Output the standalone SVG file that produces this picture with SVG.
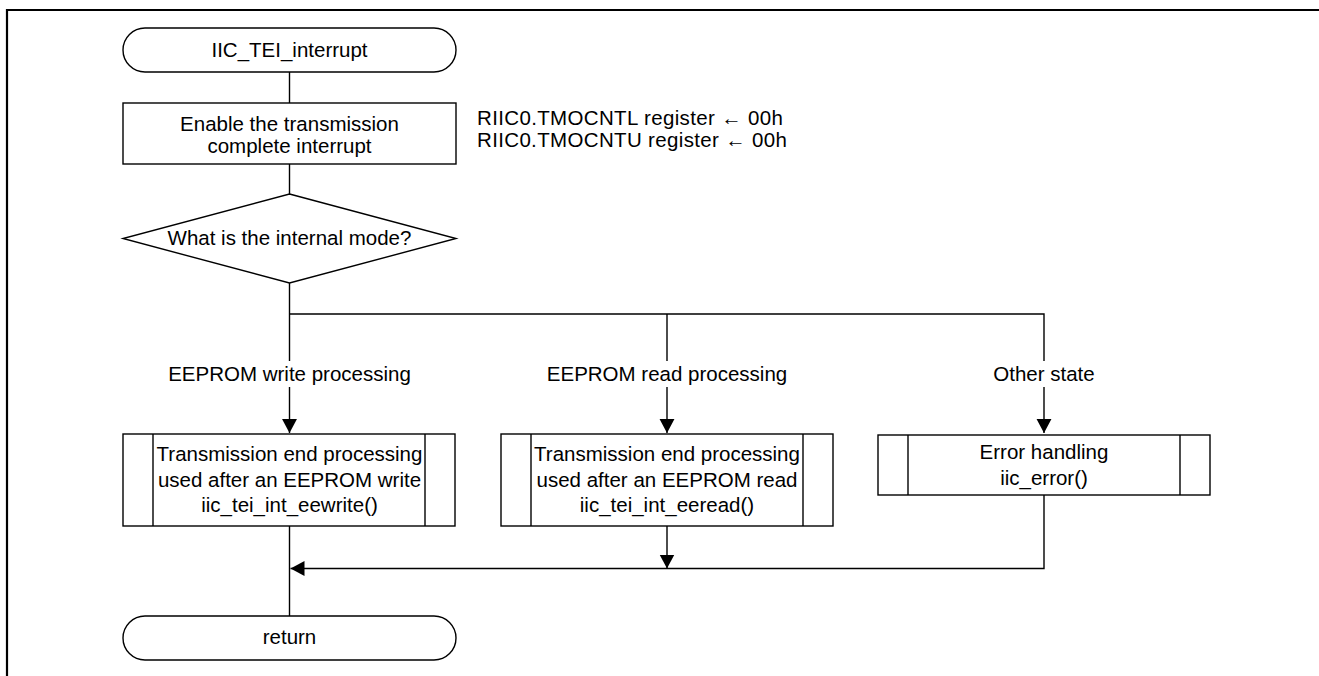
<svg xmlns="http://www.w3.org/2000/svg" width="1319" height="676" viewBox="0 0 1319 676">
<style>
.s{fill:#fff;stroke:#000;stroke-width:1.4}
.l{fill:none;stroke:#000;stroke-width:1.4}
text{font-family:"Liberation Sans",Arial,sans-serif;font-size:20.5px;fill:#000}
.c{text-anchor:middle}
</style>
<defs>
<marker id="ah" markerWidth="14" markerHeight="16" refX="15" refY="8" orient="auto" markerUnits="userSpaceOnUse" viewBox="0 0 15 16">
<path d="M0,0 L15,8 L0,16 Z" fill="#000"/>
</marker>
</defs>
<rect width="1319" height="676" fill="#fff"/>
<path d="M7,676 V10 H1319" fill="none" stroke="#000" stroke-width="2.2"/>
<g id="connectors">
<line class="l" x1="289.5" y1="72" x2="289.5" y2="103"/>
<line class="l" x1="289.5" y1="164" x2="289.5" y2="194"/>
<line class="l" x1="289.5" y1="283" x2="289.5" y2="314"/>
<path class="l" d="M289.5,314 H1044 V433" marker-end="url(#ah)"/>
<line class="l" x1="289.5" y1="314" x2="289.5" y2="433" marker-end="url(#ah)"/>
<line class="l" x1="667" y1="314" x2="667" y2="433" marker-end="url(#ah)"/>
<line class="l" x1="289.5" y1="526" x2="289.5" y2="616"/>
<line class="l" x1="667" y1="526" x2="667" y2="568.5" marker-end="url(#ah)"/>
<path class="l" d="M1044,495 V568.5 H290.5" marker-end="url(#ah)"/>
<rect x="160" y="361" width="260" height="26" fill="#fff"/>
<text class="c" x="289.5" y="381">EEPROM write processing</text>
<rect x="540" y="361" width="254" height="26" fill="#fff"/>
<text class="c" x="667" y="381">EEPROM read processing</text>
<rect x="990" y="361" width="108" height="26" fill="#fff"/>
<text class="c" x="1044" y="381">Other state</text>
</g>
<g id="start">
<rect class="s" x="123" y="28" width="333" height="44" rx="22" ry="22"/>
<text class="c" x="289.5" y="57">IIC_TEI_interrupt</text>
</g>
<g id="enable">
<rect class="s" x="123" y="103" width="333" height="61"/>
<text class="c" x="289.5" y="131">Enable the transmission</text>
<text class="c" x="289.5" y="153">complete interrupt</text>
</g>
<g id="note">
<text x="477" y="125" textLength="306" lengthAdjust="spacing">RIIC0.TMOCNTL register ← 00h</text>
<text x="477" y="147" textLength="310" lengthAdjust="spacing">RIIC0.TMOCNTU register ← 00h</text>
</g>
<g id="decision">
<path class="s" d="M289.5,194 L456,238.5 L289.5,283 L123,238.5 Z"/>
<text class="c" x="289.5" y="245">What is the internal mode?</text>
</g>
<g id="eewrite">
<rect class="s" x="123" y="434" width="332" height="92"/>
<line class="l" x1="153" y1="434" x2="153" y2="526"/>
<line class="l" x1="425" y1="434" x2="425" y2="526"/>
<text class="c" x="289.5" y="461">Transmission end processing</text>
<text class="c" x="289.5" y="487">used after an EEPROM write</text>
<text class="c" x="289.5" y="512">iic_tei_int_eewrite()</text>
</g>
<g id="eeread">
<rect class="s" x="501" y="434" width="332" height="92"/>
<line class="l" x1="531" y1="434" x2="531" y2="526"/>
<line class="l" x1="803" y1="434" x2="803" y2="526"/>
<text class="c" x="667" y="461">Transmission end processing</text>
<text class="c" x="667" y="487">used after an EEPROM read</text>
<text class="c" x="667" y="512">iic_tei_int_eeread()</text>
</g>
<g id="error">
<rect class="s" x="878" y="435" width="332" height="60"/>
<line class="l" x1="908" y1="435" x2="908" y2="495"/>
<line class="l" x1="1180" y1="435" x2="1180" y2="495"/>
<text class="c" x="1044" y="459">Error handling</text>
<text class="c" x="1044" y="485">iic_error()</text>
</g>
<g id="return">
<rect class="s" x="123" y="616" width="333" height="44" rx="22" ry="22"/>
<text class="c" x="289.5" y="644">return</text>
</g>
</svg>
